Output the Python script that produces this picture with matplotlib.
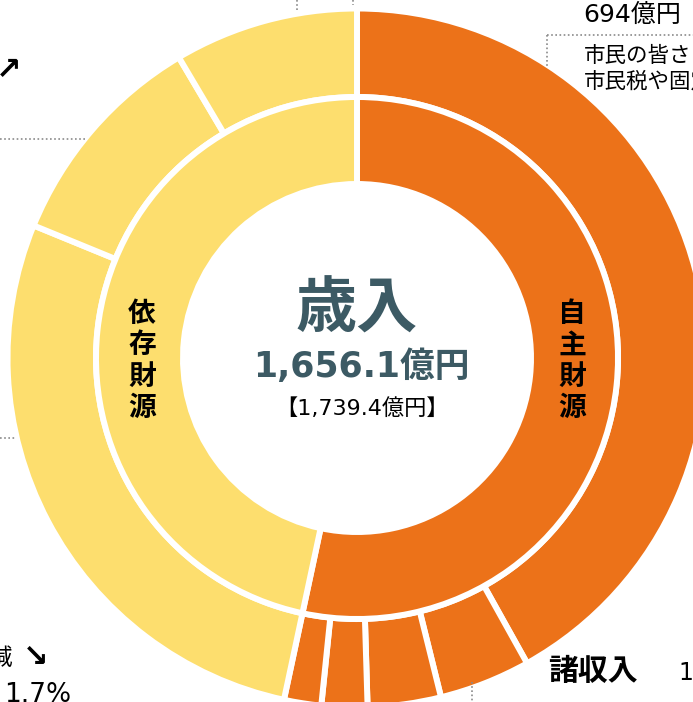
import matplotlib.pyplot as plt

plt.rcParams['font.family'] = ['Noto Sans CJK JP', 'DejaVu Sans']
NUMFONT = ['DejaVu Sans', 'Noto Sans CJK JP']

# ============================================================
# Data (億円)
# ============================================================

own_names = ["市税", "諸収入", "使用料及び手数料", "繰入金", "その他"]
own_values = [694, 70, 56, 35, 28.5]

dep_names = ["国庫支出金等", "市債", "地方交付税等"]
dep_values = [461, 170.5, 141]

group_names = ["自主財源", "依存財源"]
group_values = [sum(own_values), sum(dep_values)]

ORANGE = "#EC7219"
YELLOW = "#FDDE6E"
SLATE = "#3C5A64"
DOT = "#8a8a8a"

W, H = 693, 702
CX, CY = 357, H - 358


def Y(y):
    return H - y


# ============================================================
# Figure
# ============================================================

fig = plt.figure(figsize=(W / 100, H / 100), dpi=100)
ax = fig.add_axes([0, 0, 1, 1])

# outer ring
ax.pie(
    own_values + dep_values,
    colors=[ORANGE] * len(own_values) + [YELLOW] * len(dep_values),
    radius=349.5,
    center=(CX, CY),
    startangle=90,
    counterclock=False,
    wedgeprops=dict(width=88.5, edgecolor="white", linewidth=4.3),
)

# inner ring
ax.pie(
    group_values,
    colors=[ORANGE, YELLOW],
    radius=261,
    center=(CX, CY),
    startangle=90,
    counterclock=False,
    wedgeprops=dict(width=87, edgecolor="white", linewidth=4.3),
)

ax.set_xlim(0, W)
ax.set_ylim(0, H)
ax.set_aspect("equal")
ax.axis("off")

# centre text
ax.text(357, Y(310), "歳入", ha="center", va="center",
        fontsize=44, fontweight="bold", color=SLATE)
ax.text(361, Y(367), "1,656.1億円", ha="center", va="center",
        fontsize=25, fontweight="bold", color=SLATE, family=NUMFONT)
ax.text(362, Y(408), "【1,739.4億円】", ha="center", va="center",
        fontsize=16, color="black", family=NUMFONT)

# ring labels
ax.text(572, Y(361), "自\n主\n財\n源", ha="center", va="center",
        fontsize=20, fontweight="bold", linespacing=1.15)
ax.text(142, Y(361), "依\n存\n財\n源", ha="center", va="center",
        fontsize=20, fontweight="bold", linespacing=1.15)

# partial callouts at the edges
ax.text(583, Y(15), "694億円", ha="left", va="center", fontsize=18,
        family=NUMFONT)
ax.text(584, Y(56), "市民の皆さまから", ha="left", va="center", fontsize=15.5)
ax.text(584, Y(82), "市民税や固定資産税", ha="left", va="center", fontsize=15.5)
ax.text(548, Y(671), "諸収入", ha="left", va="center",
        fontsize=21.5, fontweight="bold")
ax.text(678, Y(673), "1", ha="left", va="center", fontsize=17,
        family=NUMFONT)
ax.text(-4, Y(71), "↗", ha="left", va="center", fontsize=22,
        fontweight="bold", family=NUMFONT)
ax.text(-12, Y(658), "減", ha="left", va="center", fontsize=17)
ax.text(23, Y(658), "↘", ha="left", va="center", fontsize=22,
        fontweight="bold", family=NUMFONT)
ax.text(4, Y(695), "1.7%", ha="left", va="center", fontsize=19,
        family=NUMFONT)

# dotted leader lines
dot = dict(color=DOT, linestyle=(0, (1, 1.5)), linewidth=1.2)
ax.plot([0, 85], [Y(139), Y(139)], **dot)
ax.plot([0, 15], [Y(438), Y(438)], **dot)
ax.plot([297, 297], [Y(0), Y(10)], **dot)
ax.plot([353, 353], [Y(0), Y(5)], **dot)
ax.plot([547, W], [Y(35), Y(35)], **dot)
ax.plot([547, 547], [Y(35), Y(68)], **dot)
ax.plot([472, 472], [Y(682), Y(H)], **dot)

fig.savefig("out.png", dpi=100)
